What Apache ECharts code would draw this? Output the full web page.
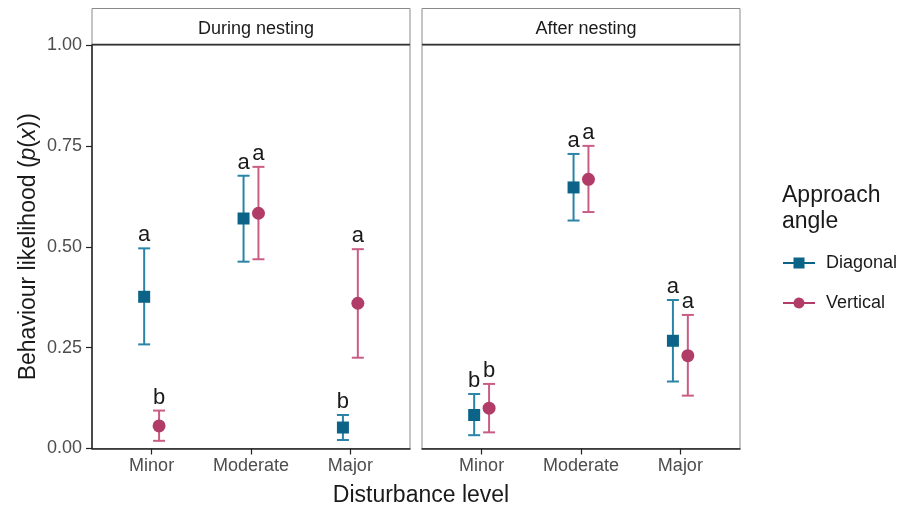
<!DOCTYPE html>
<html lang="en">
<head>
    <meta charset="UTF-8">
    <title>Behaviour likelihood</title>
    <style>
        html, body { margin: 0; padding: 0; background: #fff; }
        #container { width: 914px; height: 506px; }
    </style>
</head>
<body>
<div id="container"></div>
<script src="https://cdn.jsdelivr.net/npm/echarts@6/dist/echarts.min.js"></script>
<script type="text/javascript">
    // categories and tick labels
    var categories = ['Minor', 'Moderate', 'Major'];
    var yTicks = [0, 0.25, 0.5, 0.75, 1];

    // During nesting
    var duringDiag = [0.376, 0.570, 0.052];
    var duringDiagLo = [0.258, 0.463, 0.021];
    var duringDiagHi = [0.496, 0.676, 0.083];
    var duringDiagLetters = ['a', 'a', 'b'];
    var duringVert = [0.056, 0.583, 0.360];
    var duringVertLo = [0.019, 0.469, 0.225];
    var duringVertHi = [0.094, 0.698, 0.494];
    var duringVertLetters = ['b', 'a', 'a'];

    // After nesting
    var afterDiag = [0.083, 0.647, 0.267];
    var afterDiagLo = [0.033, 0.565, 0.166];
    var afterDiagHi = [0.135, 0.730, 0.368];
    var afterDiagLetters = ['b', 'a', 'a'];
    var afterVert = [0.100, 0.667, 0.230];
    var afterVertLo = [0.040, 0.586, 0.131];
    var afterVertHi = [0.160, 0.750, 0.331];
    var afterVertLetters = ['b', 'a', 'a'];

    var diagPoint = '#0b6487', diagLine = '#2a84a8';
    var vertPoint = '#b23c68', vertLine = '#c95d86';
    var dodge = 0.075;
    var FONT = '"Liberation Sans", Arial, sans-serif';

    function barSeries(name, axis, lo, hi, letters, offset, color) {
        return {
            name: name,
            type: 'custom',
            xAxisIndex: axis,
            yAxisIndex: axis,
            z: 2,
            itemStyle: {color: color},
            data: categories.map(function (c, i) { return [i + 1 + offset, lo[i], hi[i]]; }),
            encode: {x: 0, y: [1, 2]},
            renderItem: function (params, api) {
                var x = api.value(0);
                var p1 = api.coord([x, api.value(1)]);
                var p2 = api.coord([x, api.value(2)]);
                var st = {stroke: color, lineWidth: 2};
                return {
                    type: 'group',
                    children: [
                        {type: 'line', shape: {x1: p1[0], y1: p1[1], x2: p2[0], y2: p2[1]}, style: st},
                        {type: 'line', shape: {x1: p1[0] - 6, y1: p1[1], x2: p1[0] + 6, y2: p1[1]}, style: st},
                        {type: 'line', shape: {x1: p2[0] - 6, y1: p2[1], x2: p2[0] + 6, y2: p2[1]}, style: st},
                        {type: 'text', style: {
                            text: letters[params.dataIndex], x: p2[0], y: p2[1] - 2,
                            align: 'center', verticalAlign: 'bottom',
                            fill: '#1a1a1a', font: '22px ' + FONT
                        }}
                    ]
                };
            }
        };
    }

    function pointSeries(name, axis, vals, offset, color, symbol, size) {
        return {
            name: name,
            type: 'scatter',
            xAxisIndex: axis,
            yAxisIndex: axis,
            z: 3,
            symbol: symbol,
            symbolSize: size,
            itemStyle: {color: color, opacity: 1},
            data: categories.map(function (c, i) { return [i + 1 + offset, vals[i]]; })
        };
    }

    function xAxis(idx) {
        return {
            type: 'value', gridIndex: idx, min: 0.4, max: 3.6,
            splitLine: {show: false},
            axisLine: {show: true, onZero: false, lineStyle: {color: '#222', width: 1.5}},
            axisTick: {show: true, length: 6, customValues: [1, 2, 3], lineStyle: {color: '#222', width: 1.2}},
            axisLabel: {
                customValues: [1, 2, 3], margin: 9, fontSize: 18, color: '#4d4d4d',
                fontFamily: FONT,
                formatter: function (v) { return categories[Math.round(v) - 1]; }
            }
        };
    }

    function yAxis(idx) {
        var first = idx === 0;
        return {
            type: 'value', gridIndex: idx, min: 0, max: 1, interval: 0.25,
            splitLine: {show: false},
            axisLine: {show: first, lineStyle: {color: '#222', width: 1.5}},
            axisTick: {show: first, length: 6, lineStyle: {color: '#222', width: 1.2}},
            axisLabel: {
                show: first, margin: 10, fontSize: 18, color: '#4d4d4d',
                fontFamily: FONT,
                formatter: function (v) { return v.toFixed(2); }
            },
            name: first ? 'Behaviour likelihood ({i|p}({i|x}))' : '',
            nameLocation: 'middle',
            nameRotate: 90,
            nameGap: 52,
            nameTextStyle: {
                fontSize: 23, color: '#1a1a1a', fontFamily: FONT,
                rich: {i: {fontStyle: 'italic', fontSize: 23, color: '#1a1a1a', fontFamily: FONT}}
            }
        };
    }

    var diagIcon = 'path://M0,5H10.5V0.5H21.5V5H32V7H21.5V11.5H10.5V7H0Z';
    var vertIcon = 'path://M0,5H10.6A5.5,5.5,0,0,1,21.4,5H32V7H21.4A5.5,5.5,0,0,1,10.6,7H0Z';

    var option = {
        animation: false,
        backgroundColor: '#fff',
        grid: [
            {left: 92, top: 45, width: 318, height: 403.5, show: true, borderColor: '#8a8a8a', borderWidth: 1},
            {left: 422, top: 45, width: 318, height: 403.5, show: true, borderColor: '#8a8a8a', borderWidth: 1}
        ],
        xAxis: [xAxis(0), xAxis(1)],
        yAxis: [yAxis(0), yAxis(1)],
        title: [
            {text: 'During nesting', left: 251, top: 15, textAlign: 'center',
                textStyle: {fontSize: 18, fontWeight: 'normal', color: '#1a1a1a', fontFamily: FONT}},
            {text: 'After nesting', left: 581, top: 15, textAlign: 'center',
                textStyle: {fontSize: 18, fontWeight: 'normal', color: '#1a1a1a', fontFamily: FONT}},
            {text: 'Disturbance level', left: 416, top: 479, textAlign: 'center',
                textStyle: {fontSize: 23, fontWeight: 'normal', color: '#1a1a1a', fontFamily: FONT}},
            {text: 'Approach\nangle', left: 777, top: 178,
                textStyle: {fontSize: 23, fontWeight: 'normal', lineHeight: 26, color: '#1a1a1a', fontFamily: FONT}}
        ],
        graphic: [
            {type: 'rect', shape: {x: 92, y: 8.5, width: 318, height: 36.5}, style: {fill: '#fff', stroke: '#8a8a8a', lineWidth: 1}, z: 0},
            {type: 'rect', shape: {x: 422, y: 8.5, width: 318, height: 36.5}, style: {fill: '#fff', stroke: '#8a8a8a', lineWidth: 1}, z: 0},
            {type: 'line', shape: {x1: 92, y1: 44.5, x2: 410, y2: 44.5}, style: {stroke: '#333', lineWidth: 1.5}, z: 10},
            {type: 'line', shape: {x1: 422, y1: 44.5, x2: 740, y2: 44.5}, style: {stroke: '#333', lineWidth: 1.5}, z: 10}
        ],
        legend: {
            orient: 'vertical',
            left: 778,
            top: 249,
            itemWidth: 32,
            itemHeight: 12,
            itemGap: 22,
            textStyle: {fontSize: 18, color: '#1a1a1a', padding: [0, 0, 0, 6], fontFamily: FONT},
            data: [
                {name: 'Diagonal', icon: diagIcon, itemStyle: {color: diagPoint}},
                {name: 'Vertical', icon: vertIcon, itemStyle: {color: vertPoint}}
            ]
        },
        series: [
            barSeries('Diagonal', 0, duringDiagLo, duringDiagHi, duringDiagLetters, -dodge, diagLine),
            barSeries('Vertical', 0, duringVertLo, duringVertHi, duringVertLetters, dodge, vertLine),
            barSeries('Diagonal', 1, afterDiagLo, afterDiagHi, afterDiagLetters, -dodge, diagLine),
            barSeries('Vertical', 1, afterVertLo, afterVertHi, afterVertLetters, dodge, vertLine),
            pointSeries('Diagonal', 0, duringDiag, -dodge, diagPoint, 'rect', 12),
            pointSeries('Vertical', 0, duringVert, dodge, vertPoint, 'circle', 13),
            pointSeries('Diagonal', 1, afterDiag, -dodge, diagPoint, 'rect', 12),
            pointSeries('Vertical', 1, afterVert, dodge, vertPoint, 'circle', 13)
        ]
    };

    var myChart = echarts.init(document.getElementById('container'));
    myChart.setOption(option);
</script>
</body>
</html>
